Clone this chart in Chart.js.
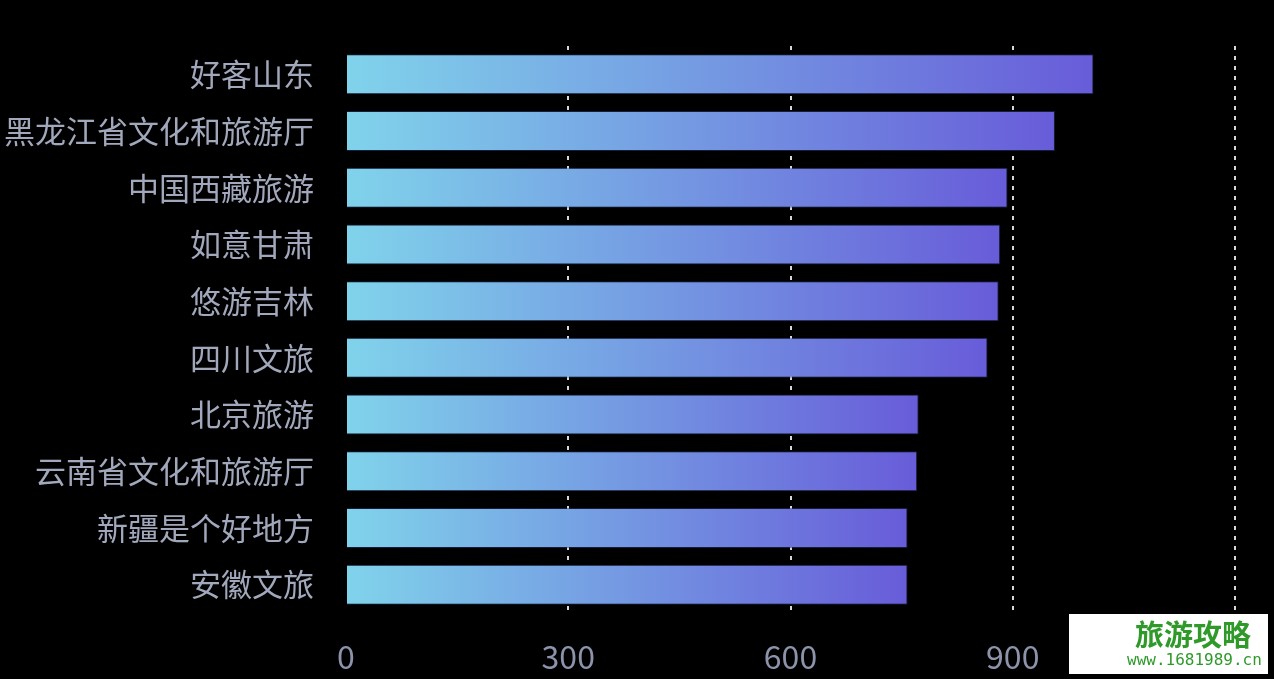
<!DOCTYPE html>
<html>
<head>
<meta charset="utf-8">
<script src="https://cdn.jsdelivr.net/npm/chart.js@4"></script>
<style>
  html, body { margin: 0; padding: 0; background: #000; }
  #wrap { position: relative; width: 1274px; height: 679px; }
  #mark {
    position: absolute; left: 1069px; top: 614px; width: 199px; height: 60px;
    background: #fff; font-family: "Noto Sans CJK SC", sans-serif; color: #2f9a2a;
  }
  #mark .big { position: absolute; left: 66px; top: 2px; font-size: 29px; line-height: 34px; font-weight: bold; }
  #mark .small { position: absolute; left: 58px; top: 36px; font-size: 16px; line-height: 20px; font-family: "DejaVu Sans Mono", monospace; }
</style>
</head>
<body>
<div id="wrap">
  <canvas id="chart" width="1274" height="679"></canvas>
  <div id="mark"><span class="big">旅游攻略</span><span class="small">www.1681989.cn</span></div>
</div>
<script>
const categories = ['好客山东', '黑龙江省文化和旅游厅', '中国西藏旅游', '如意甘肃', '悠游吉林',
  '四川文旅', '北京旅游', '云南省文化和旅游厅', '新疆是个好地方', '安徽文旅'];
const values = [1009, 957, 893, 883, 881, 866, 773, 771, 758, 758];
const tickValues = [0, 300, 600, 900, 1200];
const tickLabels = ['0', '300', '600', '900', ''];

const FONT = '"Noto Sans CJK SC", "Noto Sans", sans-serif';

// each bar gets its own gradient, from its base to its tip
function barGradient(context) {
  const chart = context.chart;
  const x = chart.scales.x;
  if (!chart.chartArea || !x) return '#76a8e4';
  const v = context.raw || 0;
  const x0 = x.getPixelForValue(0);
  const x1 = x.getPixelForValue(v);
  const g = chart.ctx.createLinearGradient(x0, 0, x1, 0);
  g.addColorStop(0, '#80d3eb');
  g.addColorStop(1, '#685cd9');
  return g;
}

new Chart(document.getElementById('chart'), {
  type: 'bar',
  data: {
    labels: categories,
    datasets: [{
      data: values,
      backgroundColor: barGradient,
      borderColor: 'rgba(40, 60, 120, 0.5)',
      borderWidth: 1,
      barPercentage: 0.705,
      categoryPercentage: 1
    }]
  },
  options: {
    indexAxis: 'y',
    responsive: false,
    animation: false,
    layout: {
      padding: { top: 46, right: 39, bottom: 0, left: 0 }
    },
    plugins: {
      legend: { display: false },
      tooltip: { enabled: false }
    },
    scales: {
      x: {
        min: 0,
        max: 1200,
        afterBuildTicks: scale => {
          scale.ticks = tickValues.map(v => ({ value: v }));
        },
        afterFit: scale => {
          scale.height = 66;
          // the last label sits under the watermark, don't let it push the plot in
          scale.paddingRight = 0;
          scale.paddingLeft = 0;
        },
        grid: {
          drawTicks: false,
          lineWidth: 2,
          color: ctx => ctx.tick && ctx.tick.value === 0 ? 'rgba(0,0,0,0)' : '#d8d8d8'
        },
        border: { display: false, dash: [4, 6] },
        ticks: {
          color: '#8c93aa',
          padding: 25,
          font: { family: FONT, size: 32 },
          callback: (value, i) => tickLabels[tickValues.indexOf(value)] ?? ''
        }
      },
      y: {
        afterFit: scale => {
          scale.width = 346;
          scale.paddingTop = 0;
          scale.paddingBottom = 0;
        },
        border: { display: false },
        grid: { display: false, drawTicks: false },
        ticks: {
          color: '#a2a8bc',
          padding: 32,
          font: { family: FONT, size: 31 }
        }
      }
    }
  }
});
</script>
</body>
</html>
